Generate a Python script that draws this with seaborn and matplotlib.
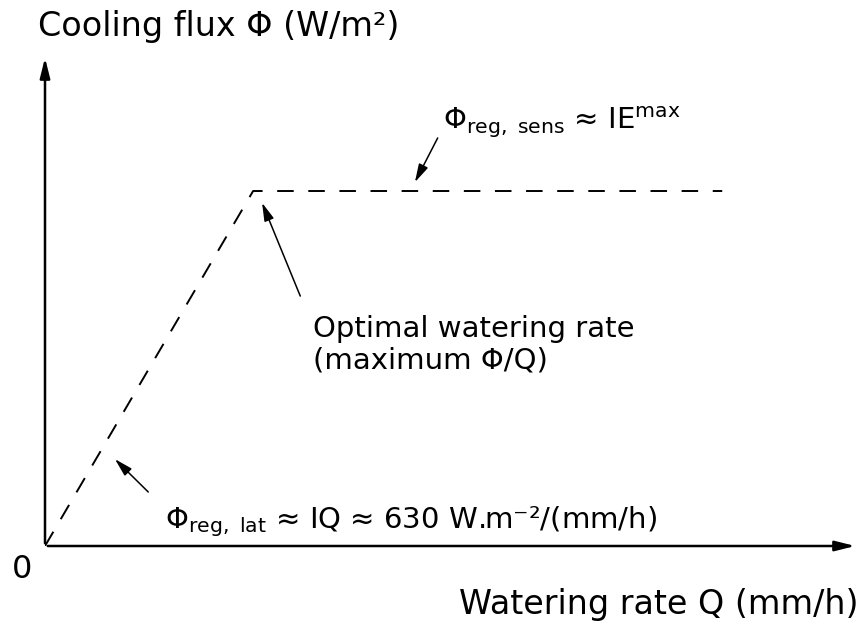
import matplotlib
matplotlib.use('Agg')
import matplotlib.pyplot as plt
import seaborn as sns
import pandas as pd

# Schematic regime curve: linear (latent) part then plateau (sensible limit)
watering_rate = [0.0, 2.56, 8.33]
cooling_flux = [0.0, 7.23, 7.23]

x_label = 'Watering rate Q (mm/h)'
y_label = 'Cooling flux Φ (W/m²)'
sens_label = r'$\Phi_{\rm reg,\ sens}$ ≈ IE$^{\rm max}$'
optimal_lines = ['Optimal watering rate', '(maximum Φ/Q)']
lat_label = r'$\Phi_{\rm reg,\ lat}$ ≈ IQ ≈ 630 W.m⁻²/(mm/h)'

sns.set_style('white')
plt.rcParams['font.family'] = ['DejaVu Sans']
plt.rcParams['mathtext.fontset'] = 'dejavusans'
plt.rcParams['text.color'] = 'black'

df = pd.DataFrame({'Q': watering_rate, 'Phi': cooling_flux})

fig = plt.figure(figsize=(8.63, 6.26), dpi=100)
ax = fig.add_axes([45 / 863, 80 / 626, 813 / 863, 491 / 626])
sns.lineplot(data=df, x='Q', y='Phi', ax=ax, color='black', lw=1.4,
             dashes=False, sort=False)
ax.lines[0].set_dashes((8.5, 7.5))
ax.set_xlim(0, 10)
ax.set_ylim(0, 10)
for s in ax.spines.values():
    s.set_visible(False)
ax.set_xticks([])
ax.set_yticks([])
ax.set_xlabel('')
ax.set_ylabel('')

# axes arrows
arrow_kw = dict(arrowstyle='-|>,head_length=1.2,head_width=0.3', color='black', lw=1.8)
ax.annotate('', xy=(1.0, 0), xytext=(0, 0), xycoords='axes fraction', arrowprops=arrow_kw)
ax.annotate('', xy=(0, 1.0), xytext=(0, 0), xycoords='axes fraction', arrowprops=arrow_kw)

# text placement in figure pixels
def fp(x, y):
    return (x / 863, 1 - y / 626)

fig.text(*fp(38, 36), y_label, fontsize=24, ha='left', va='baseline')
fig.text(*fp(858, 614), x_label, fontsize=24, ha='right', va='baseline')
fig.text(*fp(22, 578), '0', fontsize=23, ha='center', va='baseline')

fig.text(*fp(443, 129), sens_label, fontsize=21, ha='left', va='baseline')
fig.text(*fp(313, 337), optimal_lines[0], fontsize=21, ha='left', va='baseline')
fig.text(*fp(313, 368), optimal_lines[1], fontsize=21, ha='left', va='baseline')
fig.text(*fp(165, 528), lat_label, fontsize=21, ha='left', va='baseline')

# pointer arrows (data coords)
ann_kw = dict(arrowstyle='-|>,head_length=1.1,head_width=0.3', color='black',
              lw=1.1, shrinkA=0, shrinkB=0)
ax.annotate('', xy=(4.55, 7.41), xytext=(4.83, 8.31), arrowprops=ann_kw)
ax.annotate('', xy=(2.67, 6.99), xytext=(3.14, 5.09), arrowprops=ann_kw)
ax.annotate('', xy=(0.86, 1.77), xytext=(1.27, 1.10), arrowprops=ann_kw)

fig.savefig('out.png', dpi=100)
